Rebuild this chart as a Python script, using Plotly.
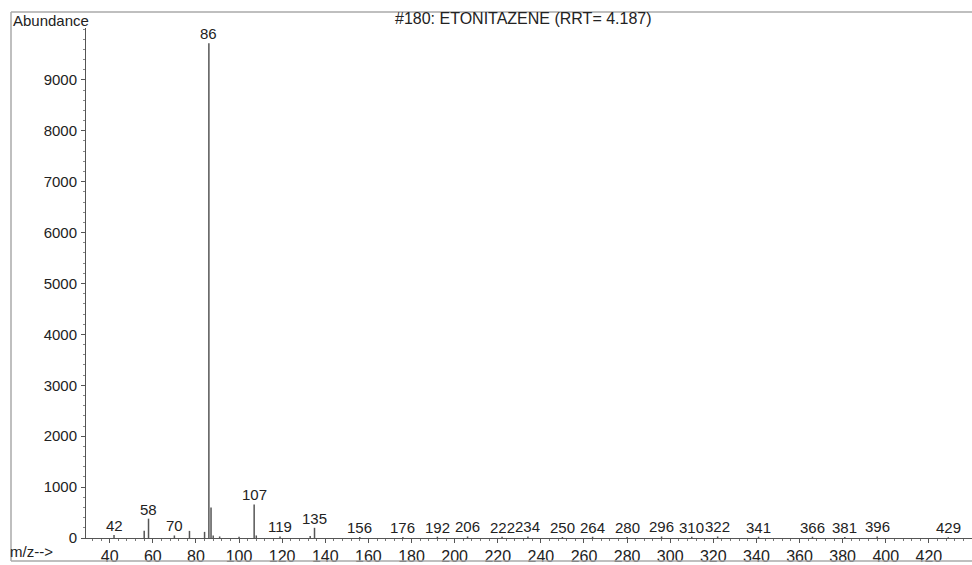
import plotly.graph_objects as go

# Stick spectrum: m/z and abundance
mz = [42, 56, 58, 70, 77, 84, 86, 87, 88, 91, 100, 107, 108, 119, 133, 135,
      156, 176, 192, 206, 222, 234, 250, 264, 280, 296, 310, 322, 341, 366, 381, 396, 429]
abundance = [60, 140, 380, 50, 140, 120, 9720, 600, 50, 30, 25, 660, 50, 30, 40, 200,
             20, 20, 25, 30, 25, 30, 20, 25, 20, 30, 25, 30, 25, 25, 20, 30, 15]

# Labelled peaks
label_mz = [42, 58, 70, 86, 107, 119, 135, 156, 176, 192, 206, 222, 234, 250, 264,
            280, 296, 310, 322, 341, 366, 381, 396, 429]

x_ticks = list(range(40, 421, 20))
y_ticks = list(range(0, 9001, 1000))

title_text = "#180: ETONITAZENE (RRT= 4.187)"

# build stick segments
xs, ys = [], []
for m, a in zip(mz, abundance):
    xs += [m, m, None]
    ys += [0, a, None]

fig = go.Figure()
fig.add_trace(go.Scatter(x=xs, y=ys, mode="lines",
                         line=dict(color="#555555", width=1.5),
                         hoverinfo="skip", showlegend=False))

ab_lookup = dict(zip(mz, abundance))
for m in label_mz:
    fig.add_annotation(x=m, y=ab_lookup[m], text=str(m), showarrow=False,
                       xanchor="center", yanchor="bottom", yshift=-1,
                       font=dict(size=15, color="#222222"))

font_family = "Liberation Sans, Arial, sans-serif"

fig.update_layout(
    width=972, height=565,
    margin=dict(l=86, r=0, t=28, b=25),
    paper_bgcolor="white", plot_bgcolor="white",
    font=dict(family=font_family, size=15, color="#222222"),
    showlegend=False,
    xaxis=dict(range=[29, 440], tickvals=x_ticks, ticktext=[str(v) for v in x_ticks],
               showgrid=False, zeroline=False, showline=True, linecolor="#555555",
               linewidth=1, ticks="outside", ticklen=4, tickcolor="#555555",
               minor=dict(dtick=4, tick0=0, ticks="outside", ticklen=2, tickcolor="#777777"),
               tickfont=dict(size=16), ticklabelstandoff=0),
    yaxis=dict(range=[0, 10020], tickvals=y_ticks, ticktext=[str(v) for v in y_ticks],
               showgrid=False, zeroline=False, showline=True, linecolor="#555555",
               linewidth=1, ticks="outside", ticklen=4, tickcolor="#555555",
               minor=dict(dtick=200, ticks="outside", ticklen=2, tickcolor="#888888"),
               tickfont=dict(size=15), ticklabelstandoff=1),
)

# header text
fig.add_annotation(xref="paper", yref="paper", x=(523 - 86) / 886, y=(540 - 18) / 512,
                   text=title_text, showarrow=False, xanchor="center", yanchor="middle",
                   font=dict(size=16, color="#222222"))
fig.add_annotation(xref="paper", yref="paper", x=(11 - 86) / 886, y=(540 - 20) / 512,
                   text="Abundance", showarrow=False, xanchor="left", yanchor="middle",
                   font=dict(size=15, color="#222222"))
fig.add_annotation(xref="paper", yref="paper", x=(8 - 86) / 886, y=(540 - 554) / 512,
                   text="m/z-->", showarrow=False, xanchor="left", yanchor="middle",
                   font=dict(size=15, color="#222222"))

# outer frame lines
frame_col = "#aaaaaa"
fig.add_shape(type="line", xref="paper", yref="paper",
              x0=(11 - 86) / 886, x1=1.0, y0=(540 - 12) / 512, y1=(540 - 12) / 512,
              line=dict(color=frame_col, width=1.5))
fig.add_shape(type="line", xref="paper", yref="paper",
              x0=(11 - 86) / 886, x1=(11 - 86) / 886, y0=(540 - 12) / 512, y1=(540 - 563) / 512,
              line=dict(color=frame_col, width=1.5))
fig.add_shape(type="line", xref="paper", yref="paper",
              x0=(11 - 86) / 886, x1=1.0, y0=(540 - 563) / 512, y1=(540 - 563) / 512,
              line=dict(color=frame_col, width=1.5))

fig.write_html("out.html", config={"displayModeBar": False},
               post_script="document.body.style.margin='0';")
